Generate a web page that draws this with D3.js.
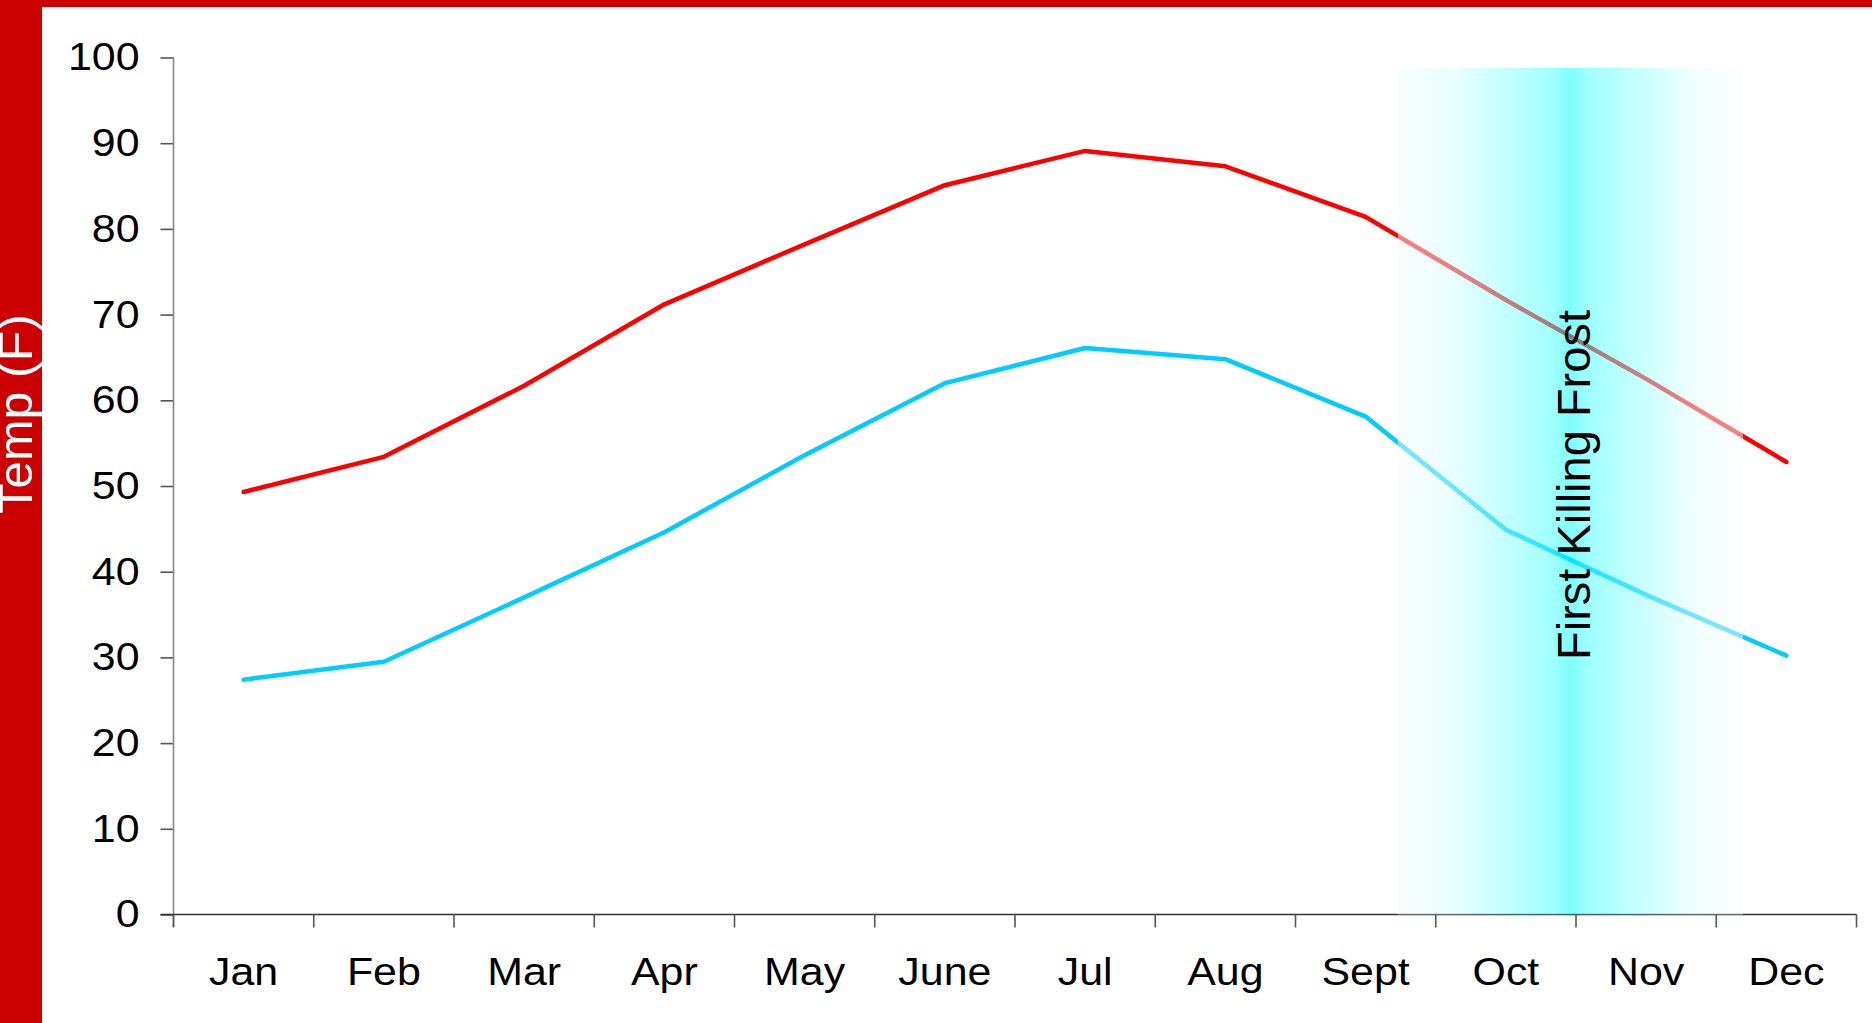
<!DOCTYPE html>
<html>
<head>
<meta charset="utf-8">
<script src="https://cdn.jsdelivr.net/npm/d3@7"></script>
<style>
  html, body { margin: 0; padding: 0; background: #ffffff; }
  svg { display: block; font-family: "Liberation Sans", Arial, sans-serif; }
</style>
</head>
<body>
<svg id="chart" width="1872" height="1023"></svg>
<script>
// ---- data ----
const months = ["Jan","Feb","Mar","Apr","May","June","Jul","Aug","Sept","Oct","Nov","Dec"];
const highTemps = [49.3, 53.4, 61.7, 71.2, 78.2, 85.1, 89.1, 87.3, 81.4, 71.7, 62.5, 52.8];
const lowTemps  = [27.4, 29.5, 37.0, 44.6, 53.6, 62.0, 66.1, 64.8, 58.1, 44.9, 37.3, 30.2];
const yTicks = [0, 10, 20, 30, 40, 50, 60, 70, 80, 90, 100];
const yLabel = "Temp (F)";
const frostLabel = "First Killing Frost";
const frostStart = "Sept", frostEnd = "Dec"; // band spans late Sept to early Dec

// ---- layout ----
const W = 1872, H = 1023;
const svg = d3.select("#chart");
const x = d3.scaleBand().domain(months).range([173.5, 1856.5]).padding(0);
const y = d3.scaleLinear().domain([0, 100]).range([914.5, 57.5]);

// frame bars
svg.append("rect").attr("x", 0).attr("y", 0).attr("width", W).attr("height", 7).attr("fill", "#cc0000");
svg.append("rect").attr("x", 0).attr("y", 0).attr("width", 42).attr("height", H).attr("fill", "#cc0000");

// y axis title
svg.append("text")
  .attr("transform", "translate(32,414) rotate(-90) scale(1.04,1)")
  .attr("text-anchor", "middle")
  .attr("fill", "#ffffff")
  .attr("font-size", 48)
  .text(yLabel);

// y axis
const yAxis = d3.axisLeft(y).tickValues(yTicks).tickSize(13).tickSizeOuter(0).tickPadding(22);
const gy = svg.append("g").attr("transform", "translate(173.5,0)").call(yAxis);
gy.select(".domain").remove();
gy.selectAll(".tick line").attr("stroke", "#555").attr("stroke-width", 1.6);
gy.selectAll(".tick text")
  .attr("x", 0)
  .attr("transform", "translate(-34,0) scale(1.1,1)")
  .attr("font-size", 39).attr("fill", "#000")
  .attr("font-family", "Liberation Sans, Arial, sans-serif");
svg.append("line").attr("x1", 173.5).attr("x2", 173.5).attr("y1", y(100)).attr("y2", y(0) + 12)
  .attr("stroke", "#888").attr("stroke-width", 1.6);

// x axis
svg.append("line").attr("x1", 160.5).attr("x2", x.range()[1]).attr("y1", y(0)).attr("y2", y(0))
  .attr("stroke", "#333").attr("stroke-width", 1.6);
const bounds = months.map(m => x(m)).concat([x.range()[1]]);
svg.append("g").selectAll("line").data(bounds).join("line")
  .attr("x1", d => d).attr("x2", d => d)
  .attr("y1", y(0)).attr("y2", y(0) + 13)
  .attr("stroke", "#555").attr("stroke-width", 1.6);
svg.append("g").selectAll("text").data(months).join("text")
  .attr("transform", d => `translate(${x(d) + x.bandwidth() / 2},985) scale(1.1,1)`)
  .attr("text-anchor", "middle")
  .attr("font-size", 39)
  .attr("fill", "#000")
  .text(d => d);

// lines
const line = d3.line().x((d, i) => x(months[i]) + x.bandwidth() / 2).y(d => y(d));
svg.append("path").datum(highTemps).attr("d", line)
  .attr("fill", "none").attr("stroke", "#ff0000").attr("stroke-width", 4.5)
  .attr("stroke-linejoin", "round").attr("stroke-linecap", "round");
svg.append("path").datum(lowTemps).attr("d", line)
  .attr("fill", "none").attr("stroke", "#00ccff").attr("stroke-width", 4.5)
  .attr("stroke-linejoin", "round").attr("stroke-linecap", "round");

// frost band (gradient overlay)
const defs = svg.append("defs");
const grad = defs.append("linearGradient").attr("id", "frost").attr("x1", "0%").attr("x2", "100%").attr("y1", "0%").attr("y2", "0%");
const stops = [
  [0, "#f6fbfb"], [0.15, "#d6ffff"], [0.3, "#90ffff"], [0.45, "#40ffff"],
  [0.5, "#00fafa"], [0.55, "#40ffff"], [0.7, "#90ffff"], [0.85, "#e0ffff"], [1, "#fbfdfd"]
];
grad.selectAll("stop").data(stops).join("stop")
  .attr("offset", d => d[0]).attr("stop-color", d => d[1]).attr("stop-opacity", 0.5);
const bandX0 = x(frostStart) + x.bandwidth() * 0.73;
const bandX1 = x(frostEnd) + x.bandwidth() * 0.19;
svg.append("rect")
  .attr("x", bandX0).attr("y", 68)
  .attr("width", bandX1 - bandX0).attr("height", y(0) - 68)
  .attr("fill", "url(#frost)");

// frost label
svg.append("text")
  .attr("transform", `translate(${x("Nov") + 14},485) rotate(-90)`)
  .attr("text-anchor", "middle")
  .attr("font-size", 47)
  .attr("fill", "#000")
  .text(frostLabel);
</script>
</body>
</html>
